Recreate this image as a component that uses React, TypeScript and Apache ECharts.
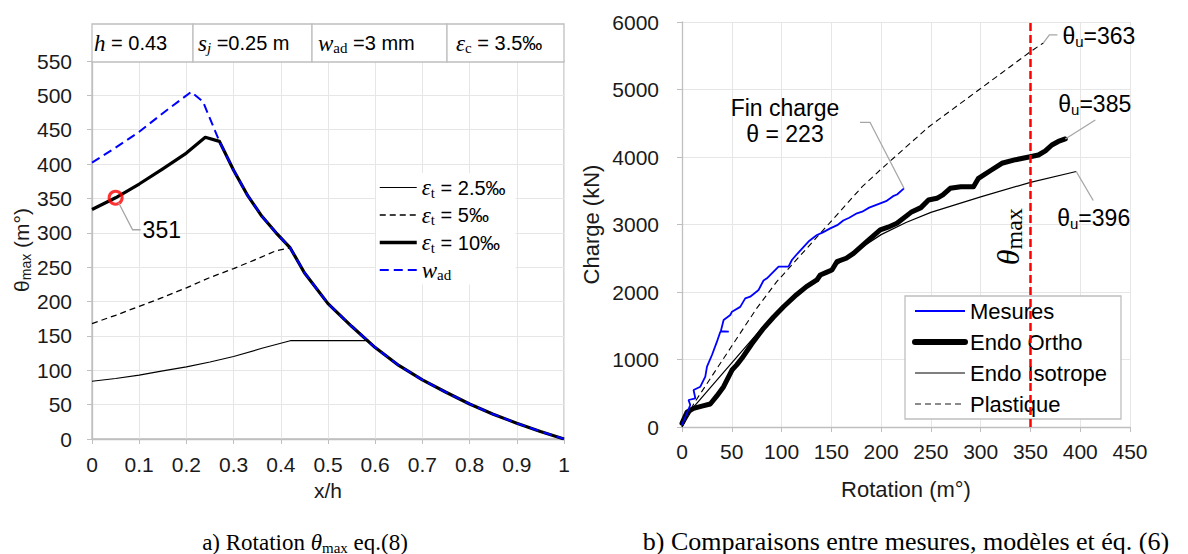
import React, { useEffect, useRef } from 'react';
import * as echarts from 'echarts';

// ---------- Left chart: θmax vs x/h ----------
const xhE25 = [0, 0.05, 0.1, 0.15, 0.2, 0.25, 0.3, 0.36, 0.42, 0.585, 0.6, 0.65, 0.7, 0.75, 0.8, 0.85, 0.9, 0.95, 1.0];
const thE25 = [84, 88, 93, 99, 105, 112, 120, 132, 143, 143, 133, 107, 86, 68, 51, 36, 23, 11, 0];

const xhE5 = [0, 0.05, 0.1, 0.15, 0.2, 0.25, 0.3, 0.35, 0.39, 0.42, 0.45, 0.5, 0.55, 0.6, 0.65, 0.7, 0.75, 0.8, 0.85, 0.9, 0.95, 1.0];
const thE5 = [168, 180, 193, 206, 220, 235, 248, 262, 274, 278, 242, 197, 164, 133, 107, 86, 68, 51, 36, 23, 11, 0];

const xhE10 = [0, 0.05, 0.1, 0.15, 0.2, 0.24, 0.27, 0.3, 0.33, 0.36, 0.39, 0.42, 0.45, 0.5, 0.55, 0.6, 0.65, 0.7, 0.75, 0.8, 0.85, 0.9, 0.95, 1.0];
const thE10 = [334, 351, 371, 393, 416, 439, 433, 391, 354, 324, 300, 278, 242, 197, 164, 133, 107, 86, 68, 51, 36, 23, 11, 0];

const xhWad = [0, 0.05, 0.1, 0.15, 0.21, 0.235, 0.27, 0.3, 0.33, 0.36, 0.39, 0.42, 0.45, 0.5, 0.55, 0.6, 0.65, 0.7, 0.75, 0.8, 0.85, 0.9, 0.95, 1.0];
const thWad = [402, 424, 447, 474, 505, 491, 433, 391, 354, 324, 300, 278, 242, 197, 164, 133, 107, 86, 68, 51, 36, 23, 11, 0];

const markPoint351 = [0.05, 351];

// ---------- Right chart: Charge vs Rotation ----------
const rotMes = [0, 8.3, 6.6, 13.4, 11.6, 18.4, 23.4, 25.1, 30.1, 35.1, 38.5, 47, 39, 41.8, 48.5, 50.2, 58.5, 63.5, 68.5, 76.9, 81.9, 85.3, 97, 107, 110.4, 116, 123.8, 128, 135.5, 141, 148.9, 156, 162, 168, 175.7, 181, 188, 199.1, 205, 212, 216, 223];
const chMes = [30, 326, 400, 425, 548, 597, 745, 893, 1067, 1264, 1412, 1412, 1420, 1585, 1659, 1708, 1780, 1906, 1930, 2030, 2170, 2203, 2375, 2375, 2474, 2570, 2696, 2760, 2844, 2880, 2943, 2990, 3060, 3100, 3166, 3190, 3250, 3314, 3345, 3420, 3445, 3536];

const rotOrtho = [0, 5, 11.6, 20, 28.4, 35, 41.8, 50.2, 55, 60.2, 70, 81.9, 92, 102, 115, 125, 135.5, 138.9, 145, 150.6, 155.6, 165, 172.3, 185, 199.1, 207, 215.9, 230, 240, 247.6, 256, 262, 269.4, 280, 292.8, 297.8, 310, 321.3, 335, 349.7, 358, 365, 371.5, 378, 385];
const chOrtho = [55, 220, 277, 310, 341, 460, 597, 844, 920, 1018, 1230, 1462, 1630, 1782, 1960, 2080, 2178, 2252, 2290, 2326, 2449, 2500, 2573, 2740, 2919, 2960, 3018, 3180, 3250, 3363, 3388, 3440, 3536, 3560, 3560, 3684, 3800, 3907, 3960, 4004, 4030, 4090, 4178, 4230, 4267];

const rotIso = [0, 12, 40, 80, 100, 135, 170, 200, 225, 250, 300, 350, 396];
const chIso = [0, 301, 780, 1462, 1760, 2190, 2560, 2850, 3030, 3180, 3410, 3625, 3785];

const rotPla = [0, 12, 50, 75, 95, 139, 181, 200, 248, 300, 350, 363];
const chPla = [0, 350, 1200, 1758, 2150, 2870, 3560, 3820, 4449, 5015, 5560, 5690];

const thetaMax = 350;
const thetaMaxLabelY = 2820;
const finCharge = [223, 3536];
const thetaU = { pla: [363, 5690], ortho: [385, 4267], iso: [396, 3785] };

const pairs = (xs: number[], ys: number[]) => xs.map((x, i) => [x, ys[i]]);

const SANS = 'Liberation Sans';
const SERIF = 'Liberation Serif';
const TXT = '#1a1a1a';
const AXIS = '#bfbfbf';
const GRID = '#e6e6e6';

const legendRich = {
  eps: { fontFamily: SERIF, fontStyle: 'italic', fontSize: 23, lineHeight: 22, color: '#000' },
  sub: { fontFamily: SERIF, fontSize: 15, lineHeight: 22, padding: [10, 0, 0, 0], color: '#000' },
  txt: { fontFamily: SANS, fontSize: 20, lineHeight: 22, color: '#000' },
};
const legendLabels: Record<string, string> = {
  e25: '{eps|ε}{sub|t}{txt| = 2.5‰}',
  e5: '{eps|ε}{sub|t}{txt| = 5‰}',
  e10: '{eps|ε}{sub|t}{txt| = 10‰}',
  wad: '{eps|w}{sub|ad}',
};

const axisCommon = {
  axisLine: { lineStyle: { color: AXIS, width: 1.3 } },
  axisTick: { show: true, length: 5, lineStyle: { color: AXIS } },
  splitLine: { show: true, lineStyle: { color: GRID, width: 1 } },
};
const plain = (v: number) => String(v);

export default function App() {
  const ref = useRef<HTMLDivElement>(null);
  useEffect(() => {
    document.body.style.margin = '0';
    const chart = echarts.init(ref.current!, null, { renderer: 'svg' });
    const option: any = {
      animation: false,
      grid: [
        { left: 92, top: 61, width: 472, height: 378, show: true, borderColor: AXIS, borderWidth: 1.3, backgroundColor: 'transparent' },
        { left: 682, top: 22, width: 448, height: 405 },
      ],
      xAxis: [
        {
          type: 'value', gridIndex: 0, min: 0, max: 1, interval: 0.1,
          name: 'x/h', nameLocation: 'middle', nameGap: 40,
          nameTextStyle: { fontFamily: SANS, fontSize: 21, color: TXT },
          axisLabel: { fontFamily: SANS, fontSize: 21, color: TXT, margin: 15 },
          ...axisCommon,
        },
        {
          type: 'value', gridIndex: 1, min: 0, max: 450, interval: 50,
          name: 'Rotation (m°)', nameLocation: 'middle', nameGap: 51,
          nameTextStyle: { fontFamily: SANS, fontSize: 22, color: TXT },
          axisLabel: { fontFamily: SANS, fontSize: 21, color: TXT, margin: 14, formatter: plain },
          ...axisCommon,
        },
      ],
      yAxis: [
        {
          type: 'value', gridIndex: 0, min: 0, max: 550, interval: 50,
          name: '{t|θ}{s|max}{t| (m°)}', nameLocation: 'middle', nameRotate: 90, nameGap: 58,
          nameTextStyle: {
            rich: {
              t: { fontFamily: SANS, fontSize: 21, color: TXT, lineHeight: 24 },
              s: { fontFamily: SANS, fontSize: 14, color: TXT, lineHeight: 24, padding: [10, 0, 0, 0] },
            },
          },
          axisLabel: { fontFamily: SANS, fontSize: 21, color: TXT, margin: 20, formatter: plain },
          ...axisCommon,
        },
        {
          type: 'value', gridIndex: 1, min: 0, max: 6000, interval: 1000,
          name: 'Charge (kN)', nameLocation: 'middle', nameRotate: 90, nameGap: 80,
          nameTextStyle: { fontFamily: SANS, fontSize: 22, color: TXT },
          axisLabel: { fontFamily: SANS, fontSize: 21, color: TXT, margin: 23, formatter: plain },
          ...axisCommon,
        },
      ],
      legend: [
        {
          data: [
            { name: 'e25', lineStyle: { width: 1.2 } },
            { name: 'e5', lineStyle: { width: 1.3 } },
            { name: 'e10', lineStyle: { width: 3.5 } },
            { name: 'wad', lineStyle: { width: 2 } },
          ],
          orient: 'vertical', left: 376, top: 173, itemWidth: 37, itemHeight: 14, itemGap: 2.5,
          padding: [2, 10, 2, 2], backgroundColor: '#fff', borderWidth: 0,
          itemStyle: { opacity: 0 },
          formatter: (n: string) => legendLabels[n],
          textStyle: { rich: legendRich },
          selectedMode: false,
        },
        {
          data: [
            { name: 'Mesures', lineStyle: { width: 2 } },
            { name: 'Endo Ortho', lineStyle: { width: 6 } },
            { name: 'Endo Isotrope', lineStyle: { width: 1.2 } },
            { name: 'Plastique', lineStyle: { width: 1.3, color: '#666' } },
          ],
          orient: 'vertical', left: 905, top: 296, itemWidth: 50, itemHeight: 14, itemGap: 7,
          padding: [3, 14, 3, 7], backgroundColor: '#fff', borderColor: AXIS, borderWidth: 1.3,
          itemStyle: { opacity: 0 },
          textStyle: { fontFamily: SANS, fontSize: 22, color: '#000', lineHeight: 24 },
          selectedMode: false,
        },
      ],
      series: [
        { name: 'e25', type: 'line', xAxisIndex: 0, yAxisIndex: 0, symbol: 'none', data: pairs(xhE25, thE25), color: '#000', lineStyle: { color: '#000', width: 1.2 }, z: 2 },
        { name: 'e5', type: 'line', xAxisIndex: 0, yAxisIndex: 0, symbol: 'none', data: pairs(xhE5, thE5), color: '#000', lineStyle: { color: '#000', width: 1.3, type: [6, 4] }, z: 2 },
        { name: 'e10', type: 'line', xAxisIndex: 0, yAxisIndex: 0, symbol: 'none', data: pairs(xhE10, thE10), color: '#000', lineStyle: { color: '#000', width: 3.2, join: 'round' }, z: 3 },
        { name: 'wad', type: 'line', xAxisIndex: 0, yAxisIndex: 0, symbol: 'none', data: pairs(xhWad, thWad), color: '#0000ff', lineStyle: { color: '#0000ff', width: 2, type: [9, 5] }, z: 4 },
        {
          name: 'pt351', type: 'scatter', xAxisIndex: 0, yAxisIndex: 0, data: [markPoint351], symbol: 'circle', symbolSize: 13,
          itemStyle: { color: 'rgba(255,255,255,0)', borderColor: '#ff0000', borderWidth: 3 }, z: 6,
        },
        {
          name: 'Plastique', type: 'line', xAxisIndex: 1, yAxisIndex: 1, symbol: 'none', data: pairs(rotPla, chPla), color: '#000',
          lineStyle: { color: '#000', width: 1.1, type: [6, 4] }, z: 2,
        },
        {
          name: 'Endo Isotrope', type: 'line', xAxisIndex: 1, yAxisIndex: 1, symbol: 'none', data: pairs(rotIso, chIso), color: '#000',
          lineStyle: { color: '#000', width: 1.2 }, z: 3,
        },
        {
          name: 'Endo Ortho', type: 'line', xAxisIndex: 1, yAxisIndex: 1, symbol: 'none', data: pairs(rotOrtho, chOrtho), color: '#000',
          lineStyle: { color: '#000', width: 5, cap: 'round', join: 'round' }, z: 3,
        },
        {
          name: 'Mesures', type: 'line', xAxisIndex: 1, yAxisIndex: 1, symbol: 'none', data: pairs(rotMes, chMes), color: '#0000ff',
          lineStyle: { color: '#0000ff', width: 1.8 }, z: 4,
          markLine: {
            silent: true, symbol: 'none', animation: false,
            label: { show: false },
            lineStyle: { color: '#ff0000', width: 2.5, type: [8, 4] },
            data: [{ xAxis: thetaMax }],
          },
        },
      ],
    };
    chart.setOption(option);

    const P = (g: number, v: number[]) => chart.convertToPixel({ gridIndex: g }, v) as number[];
    const lead = '#a6a6a6';
    const annRich = {
      t: { fontFamily: SANS, fontSize: 23, color: '#000', lineHeight: 26 },
      s: { fontFamily: SANS, fontSize: 15, color: '#000', lineHeight: 26, padding: [12, 0, 0, 0] },
    };
    const txt = (x: number, y: number, text: string, rich: any, align = 'left', extra: any = {}) => ({
      type: 'text', x, y, z: 100,
      style: { text, rich, align, textAlign: align, verticalAlign: 'middle', textVerticalAlign: 'middle', ...extra },
    });
    const poly = (pts: number[][]) => ({
      type: 'polyline', z: 99, shape: { points: pts }, style: { stroke: lead, lineWidth: 1.3, fill: 'none' },
    });

    const p351 = P(0, markPoint351);
    const pFin = P(1, finCharge);
    const pPla = P(1, thetaU.pla);
    const pOr = P(1, thetaU.ortho);
    const pIso = P(1, thetaU.iso);
    const pTm = P(1, [thetaMax, thetaMaxLabelY]);

    const boxRich = {
      mi: { fontFamily: SERIF, fontStyle: 'italic', fontSize: 23, color: '#000', lineHeight: 24 },
      sub: { fontFamily: SERIF, fontStyle: 'italic', fontSize: 15, color: '#000', lineHeight: 24, padding: [10, 0, 0, 0] },
      subr: { fontFamily: SERIF, fontSize: 15, color: '#000', lineHeight: 24, padding: [10, 0, 0, 0] },
      t: { fontFamily: SANS, fontSize: 20, color: '#000', lineHeight: 24 },
    };
    const boxes = [
      { x0: 92, x1: 193, tx: 94, text: '{mi|h}{t| = 0.43}' },
      { x0: 193, x1: 312, tx: 198, text: '{mi|s}{sub|j}{t| =0.25 m}' },
      { x0: 312, x1: 447, tx: 318, text: '{mi|w}{subr|ad}{t| =3 mm}' },
      { x0: 447, x1: 564, tx: 456, text: '{mi|ε}{subr|c}{t| = 3.5‰}' },
    ];
    const capRichA = {
      r: { fontFamily: SERIF, fontSize: 23, color: '#000', lineHeight: 26 },
      ri: { fontFamily: SERIF, fontStyle: 'italic', fontSize: 23, color: '#000', lineHeight: 26 },
      rs: { fontFamily: SERIF, fontSize: 15, color: '#000', lineHeight: 26, padding: [11, 0, 0, 0] },
    };
    const capRichB = {
      r: { fontFamily: SERIF, fontSize: 26, color: '#000', lineHeight: 28 },
    };

    const elements: any[] = [];
    boxes.forEach((b) => {
      elements.push({ type: 'rect', z: 98, shape: { x: b.x0, y: 24, width: b.x1 - b.x0, height: 38 }, style: { fill: '#fff', stroke: AXIS, lineWidth: 1.3 } });
      elements.push(txt(b.tx, 43, b.text, boxRich));
    });
    // 351 annotation
    elements.push(poly([[p351[0] + 3, p351[1] + 5], [p351[0] + 17, p351[1] + 32], [p351[0] + 25, p351[1] + 32]]));
    elements.push(txt(p351[0] + 27, p351[1] + 32, '{t|351}', annRich));
    // Fin charge
    elements.push(poly([[pFin[0], pFin[1]], [pFin[0] - 34, pFin[1] - 66], [pFin[0] - 44, pFin[1] - 66]]));
    elements.push(txt(pFin[0] - 119, pFin[1] - 67, '{t|Fin charge}\n{t|θ = 223}', annRich, 'center'));
    // θu labels
    elements.push(poly([[pPla[0], pPla[1]], [pPla[0] + 6, pPla[1] - 8], [pPla[0] + 14, pPla[1] - 8]]));
    elements.push(txt(pPla[0] + 19, pPla[1] - 7, '{t|θ}{s|u}{t|=363}', annRich));
    elements.push(poly([[pOr[0], pOr[1]], [pOr[0] + 30, pOr[1] - 19]]));
    elements.push(txt(pOr[0] - 7, pOr[1] - 35, '{t|θ}{s|u}{t|=385}', annRich));
    elements.push(poly([[pIso[0], pIso[1]], [pIso[0] + 17, pIso[1] + 29]]));
    elements.push(txt(pIso[0] - 19, pIso[1] + 46, '{t|θ}{s|u}{t|=396}', annRich));
    // θmax red label
    elements.push({
      type: 'text', x: pTm[0] - 22, y: pTm[1], rotation: Math.PI / 2, z: 100,
      style: {
        text: '{a|θ}{b|max}', align: 'center', textAlign: 'center', verticalAlign: 'middle', textVerticalAlign: 'middle',
        rich: {
          a: { fontFamily: SERIF, fontStyle: 'italic', fontSize: 32, color: '#ff0000', lineHeight: 32 },
          b: { fontFamily: SERIF, fontSize: 24, color: '#ff0000', lineHeight: 32, padding: [12, 0, 0, 0] },
        },
      },
    });
    // captions
    elements.push(txt(305, 542, '{r|a) Rotation }{ri|θ}{rs|max}{r| eq.(8)}', capRichA, 'center'));
    elements.push(txt(906, 541, '{r|b) Comparaisons entre mesures, modèles et éq. (6)}', capRichB, 'center'));

    chart.setOption({ graphic: { elements } });
    return () => chart.dispose();
  }, []);
  return <div ref={ref} style={{ width: 1188, height: 554 }} />;
}
